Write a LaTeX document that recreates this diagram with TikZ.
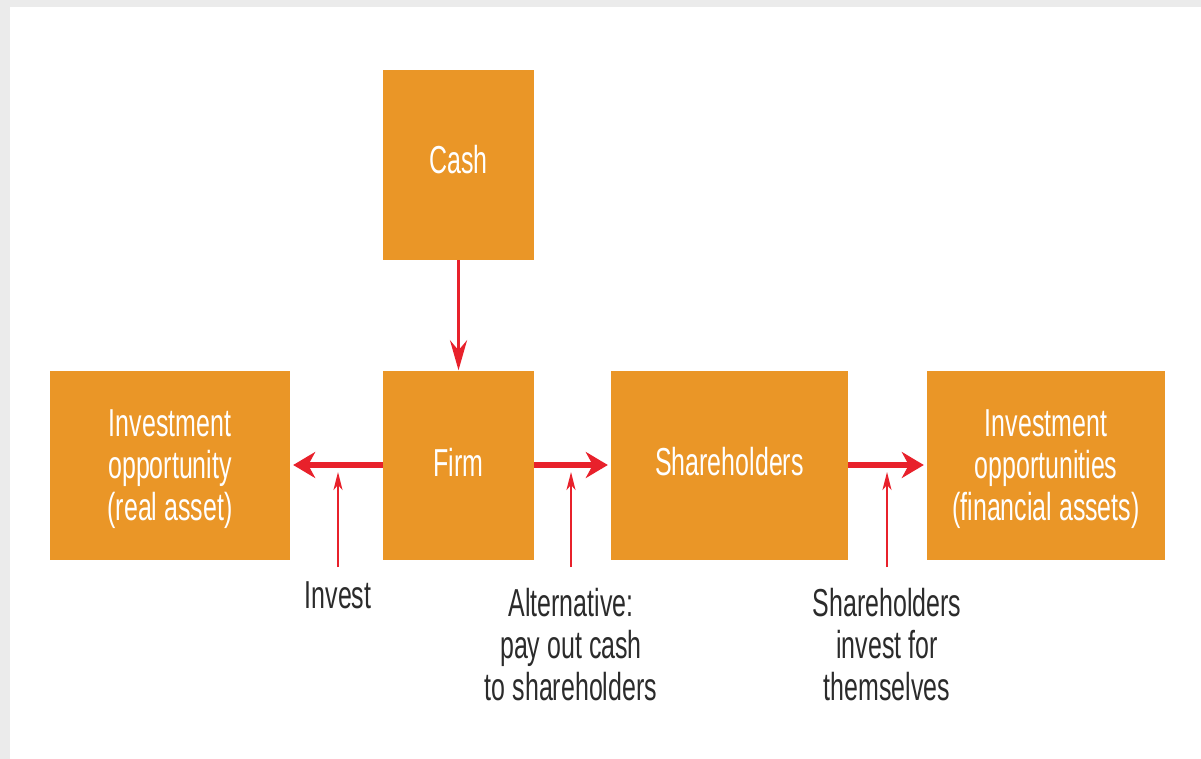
\documentclass[tikz,border=0pt]{standalone}
\usepackage{fontspec}
\setmainfont{Liberation Sans}[FakeStretch=0.64]
\usetikzlibrary{arrows.meta}
\definecolor{boxorange}{HTML}{EA9627}
\definecolor{arrowred}{HTML}{E8212B}
\definecolor{labelgray}{HTML}{2B2B2B}
\definecolor{edgegray}{HTML}{EBEBEB}
\newcommand\diagfont{\fontsize{39}{42}\selectfont}
\newcommand\shifttext[2]{\raisebox{#1}[\height][\depth]{#2}}
\newcommand\boxlines[2]{\raisebox{#1}[\height][\depth]{\begin{tabular}{@{}c@{}}#2\end{tabular}}}
\begin{document}
\begin{tikzpicture}[x=1pt,y=-1pt,
  box/.style={fill=boxorange,text=white,minimum width=#1,minimum height=189pt,
    inner sep=0pt,align=center,font=\diagfont},
  lbl/.style={text=labelgray,inner sep=0pt,align=center,font=\diagfont},
  bigarrow/.style={draw=arrowred,line width=6.5pt,
    -{Stealth[length=22pt,width=26pt,inset=7pt]},shorten >=3pt},
  downarrow/.style={draw=arrowred,line width=3.5pt,
    -{Stealth[length=30pt,width=17pt,inset=10pt]}},
  thinarrow/.style={draw=arrowred,line width=2pt,
    -{Stealth[length=18pt,width=9pt,inset=5pt]}}
]
\useasboundingbox (0,0) rectangle (1201,759);
\fill[edgegray] (0,0) rectangle (1201,759);
\fill[white] (10,7) rectangle (1201,759);

\node[box=151pt,minimum height=190pt] (cash) at (458.5,165) {\shifttext{5pt}{Cash}};
\node[box=151pt] (firm) at (458.5,465) {\shifttext{3pt}{Firm}};
\node[box=240pt] (real) at (170,465) {\boxlines{-5pt}{Investment\\opportunity\\(real asset)}};
\node[box=237pt] (share) at (729.5,465) {\shifttext{3pt}{Shareholders}};
\node[box=238pt] (fin) at (1046,465) {\boxlines{-5pt}{Investment\\opportunities\\(financial assets)}};

\draw[downarrow] (cash.south) -- (firm.north);
\draw[bigarrow] (firm.west) -- (real.east);
\draw[bigarrow] (firm.east) -- (share.west);
\draw[bigarrow] (share.east) -- (fin.west);

\coordinate (invA) at (338,567);
\coordinate (invB) at (338,472);
\coordinate (altA) at (571,567);
\coordinate (altB) at (571,472);
\coordinate (shA) at (887,567);
\coordinate (shB) at (887,472);
\draw[thinarrow] (invA) -- (invB);
\draw[thinarrow] (altA) -- (altB);
\draw[thinarrow] (shA) -- (shB);

\node[lbl] (invlbl) at (338,595) {Invest};
\node[lbl] (altlbl) at (571,645) {Alternative:\\pay out cash\\to shareholders};
\node[lbl] (shlbl) at (887,645) {Shareholders\\invest for\\themselves};
\end{tikzpicture}
\end{document}
